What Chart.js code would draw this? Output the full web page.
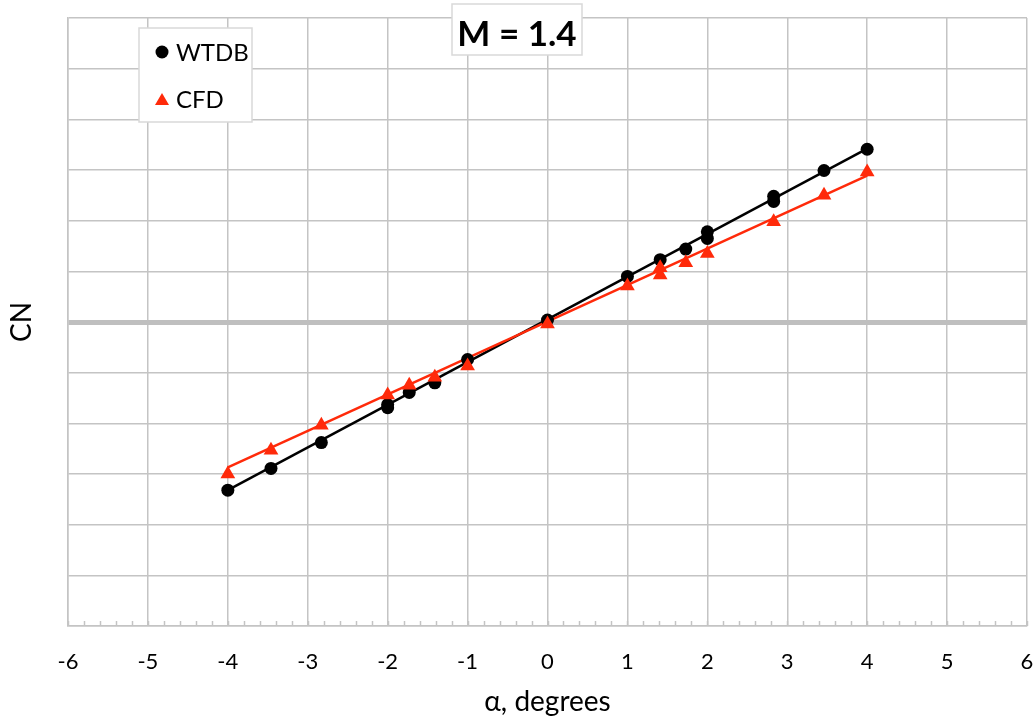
<!DOCTYPE html>
<html>
<head>
<meta charset="utf-8">
<script src="https://cdn.jsdelivr.net/npm/chart.js@4/dist/chart.umd.min.js"></script>
<style>
  html, body { margin: 0; padding: 0; background: #fff; }
  #wrap { width: 1036px; height: 721px; }
</style>
</head>
<body>
<div id="wrap"><canvas id="myChart" width="1036" height="721"></canvas></div>
<script>
// data
const wtdbAlpha = [-4, -3.46, -2.83, -2, -2, -1.73, -1.41, -1, 0, 1, 1.41, 1.73, 2, 2, 2.83, 2.83, 3.46, 4];
const wtdbCN = [-3.32, -2.89, -2.38, -1.69, -1.63, -1.39, -1.20, -0.74, 0.04, 0.90, 1.23, 1.44, 1.78, 1.65, 2.48, 2.38, 2.99, 3.41];
const cfdAlpha = [-4, -3.46, -2.83, -2, -1.73, -1.41, -1, 0, 1, 1.41, 1.41, 1.73, 2, 2.83, 3.46, 4];
const cfdCN = [-3.00, -2.53, -2.04, -1.44, -1.25, -1.09, -0.87, -0.04, 0.71, 1.07, 0.93, 1.17, 1.35, 1.98, 2.50, 2.96];
// trend lines (end points)
const wtdbFitAlpha = [-4, 4];
const wtdbFitCN = [-3.32, 3.42];
const cfdFitAlpha = [-4, 4];
const cfdFitCN = [-2.87, 2.89];
const xTicks = [-6, -5, -4, -3, -2, -1, 0, 1, 2, 3, 4, 5, 6];
const chartTitle = 'M = 1.4';

const red = '#ff2a0a';
const gridGray = '#c4c4c4';
const font = 'Lato, "Open Sans", sans-serif';

const pts = (xs, ys) => xs.map((x, i) => ({ x: x, y: ys[i] }));

// minor ticks along the bottom axis, pointing up into the plot
const minorTicks = {
  id: 'minorTicks',
  afterDraw(chart) {
    const c = chart.ctx, xs = chart.scales.x, bottom = chart.chartArea.bottom;
    c.save();
    c.strokeStyle = gridGray;
    c.lineWidth = 1.5;
    for (let v = xTicks[0]; v <= xTicks[xTicks.length - 1] + 1e-9; v += 0.2) {
      const px = Math.round(xs.getPixelForValue(v)) + 0.5;
      c.beginPath();
      c.moveTo(px, bottom);
      c.lineTo(px, bottom - 5);
      c.stroke();
    }
    c.restore();
  }
};

// title box and legend box drawn over the plot
const boxes = {
  id: 'boxes',
  afterDraw(chart) {
    const c = chart.ctx;
    c.save();
    // title
    c.fillStyle = '#fff';
    c.strokeStyle = '#d9d9d9';
    c.lineWidth = 1.5;
    c.fillRect(452, 4, 130, 51);
    c.strokeRect(452, 4, 130, 51);
    c.fillStyle = '#000';
    c.font = 'bold 35px ' + font;
    c.textAlign = 'center';
    c.textBaseline = 'alphabetic';
    c.fillText(chartTitle, 517, 46);
    // legend
    c.fillStyle = '#fff';
    c.fillRect(139, 28, 113, 94);
    c.strokeRect(139, 28, 113, 94);
    c.textAlign = 'left';
    c.font = '24px ' + font;
    const ds = chart.data.datasets;
    [[ds[1], 52], [ds[0], 99]].forEach(([d, y]) => {
      c.fillStyle = d.pointBackgroundColor;
      c.beginPath();
      if (d.pointStyle === 'triangle') {
        c.moveTo(162, y - 6);
        c.lineTo(169, y + 6);
        c.lineTo(155, y + 6);
      } else {
        c.arc(162, y, 6.5, 0, Math.PI * 2);
      }
      c.closePath();
      c.fill();
      c.fillStyle = '#000';
      c.fillText(d.label, 176, y + 9);
    });
    c.restore();
  }
};

const ctx = document.getElementById('myChart').getContext('2d');
const myChart = new Chart(ctx, {
  type: 'scatter',
  data: {
    datasets: [
      {
        label: 'CFD',
        data: pts(cfdAlpha, cfdCN),
        pointStyle: 'triangle',
        pointRadius: 8.5,
        pointBackgroundColor: red,
        pointBorderColor: red,
        pointBorderWidth: 0,
        showLine: false,
        order: 0
      },
      {
        label: 'WTDB',
        data: pts(wtdbAlpha, wtdbCN),
        pointStyle: 'circle',
        pointRadius: 6.5,
        pointBackgroundColor: '#000',
        pointBorderColor: '#000',
        pointBorderWidth: 0,
        showLine: false,
        order: 1
      },
      {
        label: 'CFD fit',
        data: pts(cfdFitAlpha, cfdFitCN),
        showLine: true,
        borderColor: red,
        borderWidth: 2.5,
        pointRadius: 0,
        order: 2
      },
      {
        label: 'WTDB fit',
        data: pts(wtdbFitAlpha, wtdbFitCN),
        showLine: true,
        borderColor: '#000',
        borderWidth: 2.5,
        pointRadius: 0,
        order: 3
      }
    ]
  },
  options: {
    responsive: false,
    animation: false,
    layout: { padding: { top: 18, right: 9, left: 0, bottom: 0 } },
    plugins: {
      legend: { display: false },
      tooltip: { enabled: false }
    },
    scales: {
      x: {
        type: 'linear',
        min: -6,
        max: 6,
        afterBuildTicks: (s) => { s.ticks = xTicks.map(v => ({ value: v })); },
        afterFit: (s) => { s.height = 95; s.paddingLeft = 0; s.paddingRight = 0; },
        grid: { color: gridGray, lineWidth: 1.5, drawTicks: false },
        border: { color: gridGray, width: 1.5 },
        ticks: { color: '#000', padding: 23, maxRotation: 0, font: { family: font, size: 22 } },
        title: {
          display: true,
          text: 'α, degrees',
          color: '#000',
          font: { family: font, size: 28 },
          padding: { top: 4, bottom: 2 }
        }
      },
      y: {
        min: -6,
        max: 6,
        ticks: { display: false, stepSize: 1 },
        afterFit: (s) => { s.width = 68; },
        grid: {
          color: (c) => c.tick && c.tick.value === 0 ? '#bfbfbf' : gridGray,
          lineWidth: (c) => c.tick && c.tick.value === 0 ? 5 : 1.5,
          drawTicks: false
        },
        border: { color: gridGray, width: 1.5 },
        title: {
          display: true,
          text: 'CN',
          color: '#000',
          font: { family: font, size: 28 },
          padding: { top: 5, bottom: 10 }
        }
      }
    }
  },
  plugins: [minorTicks, boxes]
});
</script>
</body>
</html>
